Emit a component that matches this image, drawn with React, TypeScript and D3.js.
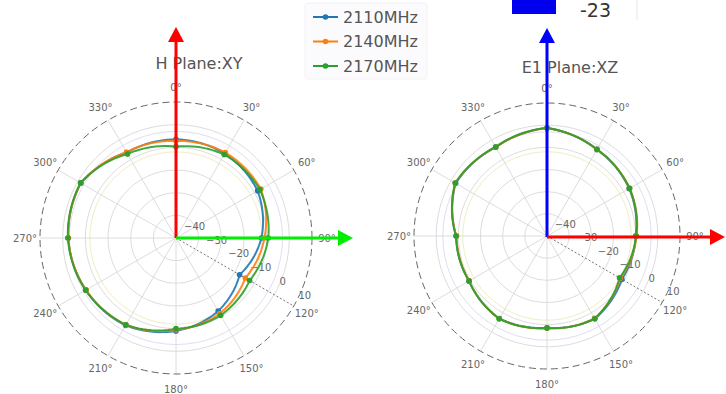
import React from "react";
import * as d3 from "d3";

const ANGLES = [0, 30, 60, 90, 120, 150, 180, 210, 240, 270, 300, 330];
const ANGLE_LABELS = ["0°", "30°", "60°", "90°", "120°", "150°", "180°", "210°", "240°", "270°", "300°", "330°"];
const R_TICKS = [-40, -30, -20, -10, 0, 10];
const R_TICK_LABELS = ["−40", "−30", "−20", "−10", "0", "10"];
const R_DOMAIN = [-50, 10];

const SERIES_NAMES = ["2110MHz", "2140MHz", "2170MHz"];
const SERIES_COLORS = ["#1f77b4", "#ff7f0e", "#2ca02c"];

const H_2110 = [-6.5, -7, -8.4, -12.3, -17.6, -12.8, -9, -5.5, -4, -2.5, -1.5, -6.5];
const H_2140 = [-7.2, -6.5, -6.8, -11, -14.7, -11.5, -9.5, -5.8, -4.2, -2.5, -1.5, -6.3];
const H_2170 = [-9.7, -7.5, -7.3, -9.3, -12.5, -10.6, -10, -5.8, -4, -2.3, -1.4, -7.2];

const E_2110 = [-1.3, -5, -7.2, -10, -11, -6.9, -8.6, -7, -9.4, -9, -2.4, -3.7];
const E_2140 = [-1.4, -4.9, -7, -9.6, -11.8, -7.1, -8.4, -6.9, -9.5, -9.2, -2.2, -3.8];
const E_2170 = [-1.3, -4.9, -7, -9.8, -12.2, -6.9, -8.5, -6.9, -9.4, -9, -2.2, -3.7];

const FONT = "DejaVu Sans, sans-serif";

type PolarProps = {
  cx: number;
  cy: number;
  R: number;
  title: string;
  titleX: number;
  titleY: number;
  series: number[][];
};

function pt(cx: number, cy: number, r: number, deg: number): [number, number] {
  const t = (deg * Math.PI) / 180;
  return [cx + r * Math.sin(t), cy - r * Math.cos(t)];
}

function Polar({ cx, cy, R, title, titleX, titleY, series }: PolarProps) {
  const rs = d3.scaleLinear().domain(R_DOMAIN).range([0, R]);
  const line = d3.line<[number, number]>();
  const paths = series.map((vals) => {
    const pts: [number, number][] = [];
    const n = ANGLES.length;
    for (let i = 0; i < n; i++) {
      const a0 = ANGLES[i];
      const a1 = i + 1 < n ? ANGLES[i + 1] : 360;
      const v0 = vals[i];
      const v1 = vals[(i + 1) % n];
      const steps = 12;
      for (let s = 0; s < steps; s++) {
        const f = s / steps;
        pts.push(pt(cx, cy, rs(v0 + (v1 - v0) * f), a0 + (a1 - a0) * f));
      }
    }
    pts.push(pts[0]);
    return line(pts) as string;
  });
  return (
    <g>
      {R_TICKS.slice(0, -1).map((v) => (
        <circle key={v} cx={cx} cy={cy} r={rs(v)} fill="none" stroke="#d8d8d8" strokeWidth={0.9} />
      ))}
      <circle cx={cx} cy={cy} r={rs(-12)} fill="none" stroke="#f1edc0" strokeWidth={1} />
      <circle cx={cx} cy={cy} r={rs(-3)} fill="none" stroke="#dedef4" strokeWidth={1} />
      {ANGLES.map((a) => {
        const [x, y] = pt(cx, cy, R, a);
        return a === 120 ? null : (
          <line key={a} x1={cx} y1={cy} x2={x} y2={y} stroke="#d8d8d8" strokeWidth={0.9} />
        );
      })}
      {(() => {
        const [x, y] = pt(cx, cy, R, 120);
        return <line x1={cx} y1={cy} x2={x} y2={y} stroke="#777" strokeWidth={1} strokeDasharray="2,2" />;
      })()}
      <circle cx={cx} cy={cy} r={R} fill="none" stroke="#666" strokeWidth={1} strokeDasharray="7,4" />
      {ANGLES.map((a, i) => {
        const [x, y] = pt(cx, cy, R + 15, a);
        return (
          <text key={a} x={x} y={y} fontSize={10} fill="#666" fontFamily={FONT} textAnchor="middle" dominantBaseline="central">
            {ANGLE_LABELS[i]}
          </text>
        );
      })}
      {R_TICKS.map((v, i) => {
        const [x, y] = pt(cx, cy, rs(v), 120);
        const f = (v + 40) / 50;
        const ox = -1 + f * 12;
        const oy = -23 + f * 12;
        return (
          <text key={v} x={x + ox} y={y + oy} fontSize={10} fill="#666" fontFamily={FONT} textAnchor="middle" dominantBaseline="central">
            {R_TICK_LABELS[i]}
          </text>
        );
      })}
      {paths.map((d, i) => (
        <path key={i} d={d} fill="none" stroke={SERIES_COLORS[i]} strokeWidth={2} strokeOpacity={0.9} />
      ))}
      {series.map((vals, si) =>
        vals.map((v, i) => {
          const [x, y] = pt(cx, cy, rs(v), ANGLES[i]);
          return <circle key={`${si}-${i}`} cx={x} cy={y} r={2.8} fill={SERIES_COLORS[si]} />;
        })
      )}
      <text x={titleX} y={titleY} fontSize={16} fill="#555" fontFamily={FONT} textAnchor="middle" dominantBaseline="central">
        {title}
      </text>
    </g>
  );
}

function Arrow({ x1, y1, x2, y2, color }: { x1: number; y1: number; x2: number; y2: number; color: string }) {
  const dx = x2 - x1;
  const dy = y2 - y1;
  const len = Math.hypot(dx, dy);
  const ux = dx / len;
  const uy = dy / len;
  const hl = 15;
  const hw = 8;
  const bx = x2 - ux * hl;
  const by = y2 - uy * hl;
  const px = -uy;
  const py = ux;
  return (
    <g>
      <line x1={x1} y1={y1} x2={bx} y2={by} stroke={color} strokeWidth={3} />
      <polygon points={`${x2},${y2} ${bx + px * hw},${by + py * hw} ${bx - px * hw},${by - py * hw}`} fill={color} />
    </g>
  );
}

export default function App() {
  const W = 726;
  const H = 394;
  return (
    <svg width={W} height={H} style={{ position: "absolute", left: 0, top: 0, background: "#fff" }}>
      <rect x={0} y={0} width={W} height={H} fill="#fff" />
      <Polar cx={176} cy={238} R={136} title="H Plane:XY" titleX={199} titleY={63} series={[H_2110, H_2140, H_2170]} />
      <Polar cx={547} cy={236} R={133} title="E1 Plane:XZ" titleX={570} titleY={67} series={[E_2110, E_2140, E_2170]} />
      <g>
        <rect x={305} y={3} width={122} height={76} fill="#fbfbfe" stroke="#f2f2f2" rx={3} />
        {SERIES_NAMES.map((n, i) => {
          const y = 17 + i * 24.5;
          return (
            <g key={n}>
              <line x1={313} y1={y} x2={338} y2={y} stroke={SERIES_COLORS[i]} strokeWidth={2} />
              <circle cx={325.5} cy={y} r={2.8} fill={SERIES_COLORS[i]} />
              <text x={343} y={y} fontSize={16} fill="#555" fontFamily={FONT} dominantBaseline="central">
                {n}
              </text>
            </g>
          );
        })}
      </g>
      <rect x={512} y={0} width={44} height={14} fill="#0000ee" />
      <text x={580} y={17} fontSize={19} fill="#333" fontFamily={FONT}>
        -23
      </text>
      <line x1={637} y1={0} x2={637} y2={20} stroke="#e6e6e6" strokeWidth={1} />
      <Arrow x1={176} y1={238} x2={176} y2={27} color="#ff0000" />
      <Arrow x1={176} y1={238} x2={353} y2={238} color="#00ee00" />
      <Arrow x1={547} y1={237} x2={547} y2={28} color="#0000ff" />
      <Arrow x1={547} y1={237} x2={725} y2={237} color="#ff0000" />
    </svg>
  );
}
